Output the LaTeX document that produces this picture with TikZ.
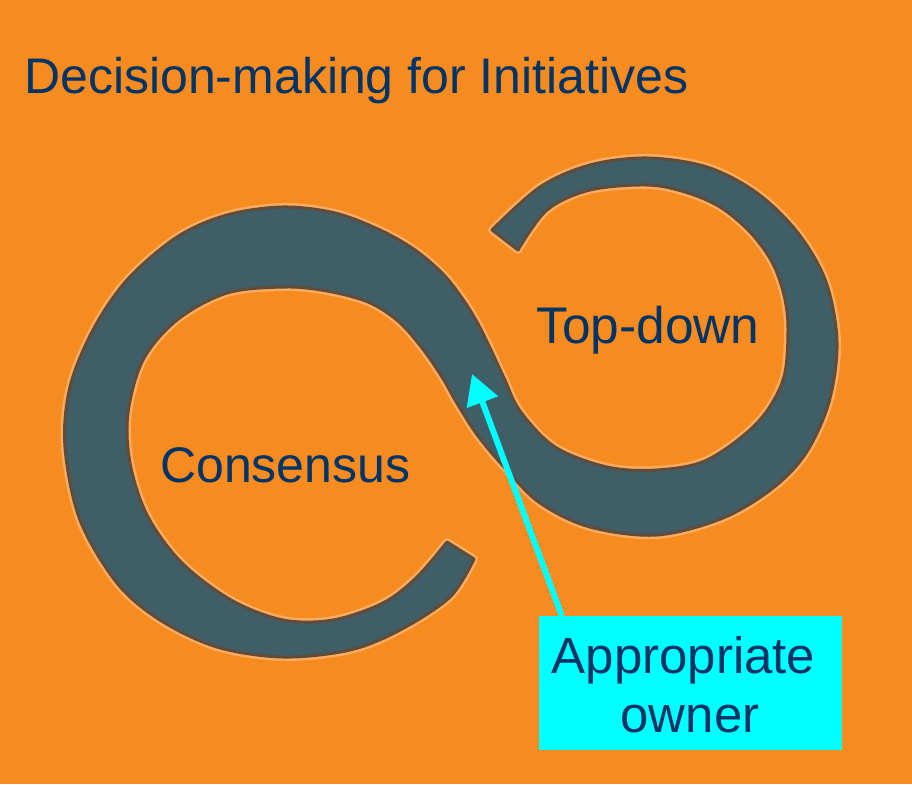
\documentclass[tikz,border=0pt]{standalone}
\usepackage{fontspec}
\setmainfont{Liberation Sans}
\usetikzlibrary{arrows.meta}
\definecolor{bgorange}{RGB}{246,139,31}
\definecolor{bandfill}{RGB}{64,94,104}
\definecolor{bandedge}{RGB}{96,76,56}
\definecolor{halo}{RGB}{247,172,98}
\definecolor{navy}{RGB}{0,51,102}
\definecolor{cyanbox}{RGB}{0,255,255}
\begin{document}
\begin{tikzpicture}[x=1pt,y=-1pt,
  lbl/.style={inner sep=0pt, text=navy, font=\fontsize{50}{59}\selectfont},
  band/.style={fill=bandfill, draw=bandedge, line width=3pt, line join=round,
    preaction={draw=halo, line width=8pt, line join=round}},
  ownerbox/.style={fill=cyanbox, draw=none, inner sep=0pt, minimum width=303pt, minimum height=134pt},
  arr/.style={draw=cyanbox, line width=6pt, -{Triangle[length=30pt,width=32pt]}}
]
\useasboundingbox (0,0) rectangle (912,784);
\fill[bgorange] (0,0) rectangle (912,784);

% infinity band
\path[band] plot[smooth, tension=0.55] coordinates {
  (492,230) (540,187) (590,165) (647,158) (707,167) (757,193) (798,233)
  (826,282) (837,342) (829,402) (806,453) (773,488) (723,518) (657,535)
  (590,527) (540,503) (505,468) (478,436) (458,405) (442,377) (422,348)
  (398,321) (368,302) (327,291) (285,287) (227,293) (177,320) (143,360)
  (128,413) (130,463) (147,515) (181,562) (231,600) (283,620) (333,620)
  (383,603) (417,577) (447,542) }
  -- plot[smooth, tension=0.55] coordinates {
  (474,559) (450,597) (400,630) (350,650) (283,657) (217,647) (160,620)
  (117,583) (80,520) (65,447) (70,387) (93,330) (127,280) (177,237)
  (227,215) (283,207) (335,213) (380,230) (415,250) (443,274) (462,298)
  (477,322) (490,348) (504,378) (520,411) (555,447) (607,467) (657,470)
  (707,460) (757,423) (783,380) (788,330) (784,295) (772,262) (750,232)
  (720,207) (685,192) (647,185) (590,190) (547,210) (518,250) }
  -- cycle;

% labels
\node[lbl, anchor=base west] (title) at (24,93) {Decision-making for Initiatives};
\node[lbl, anchor=base west] (consensus) at (160,482) {Consensus};
\node[lbl, anchor=base west, font=\fontsize{51.5}{59}\selectfont] (topdown) at (536,343) {Top-down};

% owner box
\node[ownerbox] (owner) at (690.5,683) {};
\node[lbl, anchor=base, font=\fontsize{51}{59}\selectfont] (ownerl1) at (683.5,673) {Appropriate};
\node[lbl, anchor=base, font=\fontsize{51}{59}\selectfont] (ownerl2) at (690,732) {owner};

% arrow
\coordinate (tip) at (472,374);
\draw[arr] ([xshift=23pt]owner.north west) -- (tip);
\end{tikzpicture}
\end{document}
